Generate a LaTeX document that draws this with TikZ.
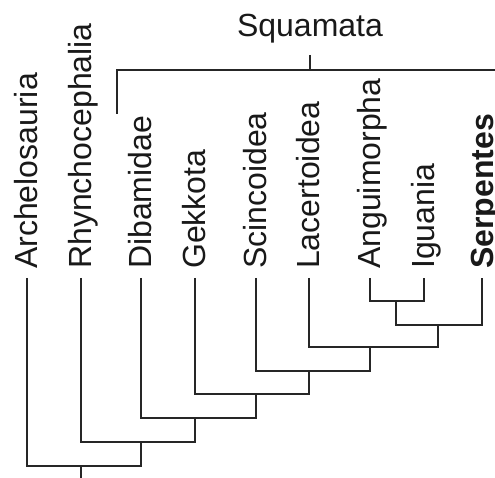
\documentclass[tikz,border=0pt]{standalone}
\usepackage{fontspec}
\setmainfont{Liberation Sans}
\begin{document}
\begin{tikzpicture}[x=1pt,y=-1pt,
  tree/.style={line width=1.3pt,draw=black!85},
  leaf/.style={rotate=90,anchor=base west,inner sep=0pt,font=\fontsize{32}{38}\selectfont,text=black!90},
  title/.style={anchor=base,inner sep=0pt,font=\fontsize{32}{38}\selectfont,text=black!90}]
\useasboundingbox (0,0) rectangle (495,478);
% leaf labels
\node[leaf] (Arc) at (37,269) {Archelosauria};
\node[leaf] (Rhy) at (91,269) {Rhynchocephalia};
\node[leaf] (Dib) at (151,269) {Dibamidae};
\node[leaf] (Gek) at (205,269) {Gekkota};
\node[leaf] (Sci) at (266,269) {Scincoidea};
\node[leaf] (Lac) at (319,269) {Lacertoidea};
\node[leaf] (Ang) at (380,269) {Anguimorpha};
\node[leaf] (Igu) at (434,269) {Iguania};
\node[leaf] (Ser) at (493,269) {\bfseries Serpentes};
\node[title] (Sq) at (310,37) {Squamata};
% leaf tops
\coordinate (tA) at (27,278);
\coordinate (tR) at (81,278);
\coordinate (tD) at (141,278);
\coordinate (tG) at (195,278);
\coordinate (tS) at (256,278);
\coordinate (tL) at (309,278);
\coordinate (tAn) at (370,278);
\coordinate (tI) at (424,278);
\coordinate (tSe) at (482,278);
% internal nodes
\coordinate (n1) at (396,301);
\coordinate (n2) at (438,325);
\coordinate (n3) at (370,347);
\coordinate (n4) at (309,371);
\coordinate (n5) at (256,394);
\coordinate (n6) at (195,418);
\coordinate (n7) at (141,442);
\coordinate (n8) at (81,466);
\coordinate (root) at (81,480);
\draw[tree] (tAn) |- (n1) -| (tI);
\draw[tree] (n1) |- (n2) -| (tSe);
\draw[tree] (tL) |- (n3) -| (n2);
\draw[tree] (tS) |- (n4) -| (n3);
\draw[tree] (tG) |- (n5) -| (n4);
\draw[tree] (tD) |- (n6) -| (n5);
\draw[tree] (tR) |- (n7) -| (n6);
\draw[tree] (tA) |- (n8) -| (n7);
\draw[tree] (n8) -- (root);
% Squamata bracket
\coordinate (bl) at (117,114);
\coordinate (br) at (497,70);
\coordinate (tick) at (310,55);
\draw[tree] (bl) |- (br);
\draw[tree] (tick) -- (tick |- br);
\end{tikzpicture}
\end{document}
